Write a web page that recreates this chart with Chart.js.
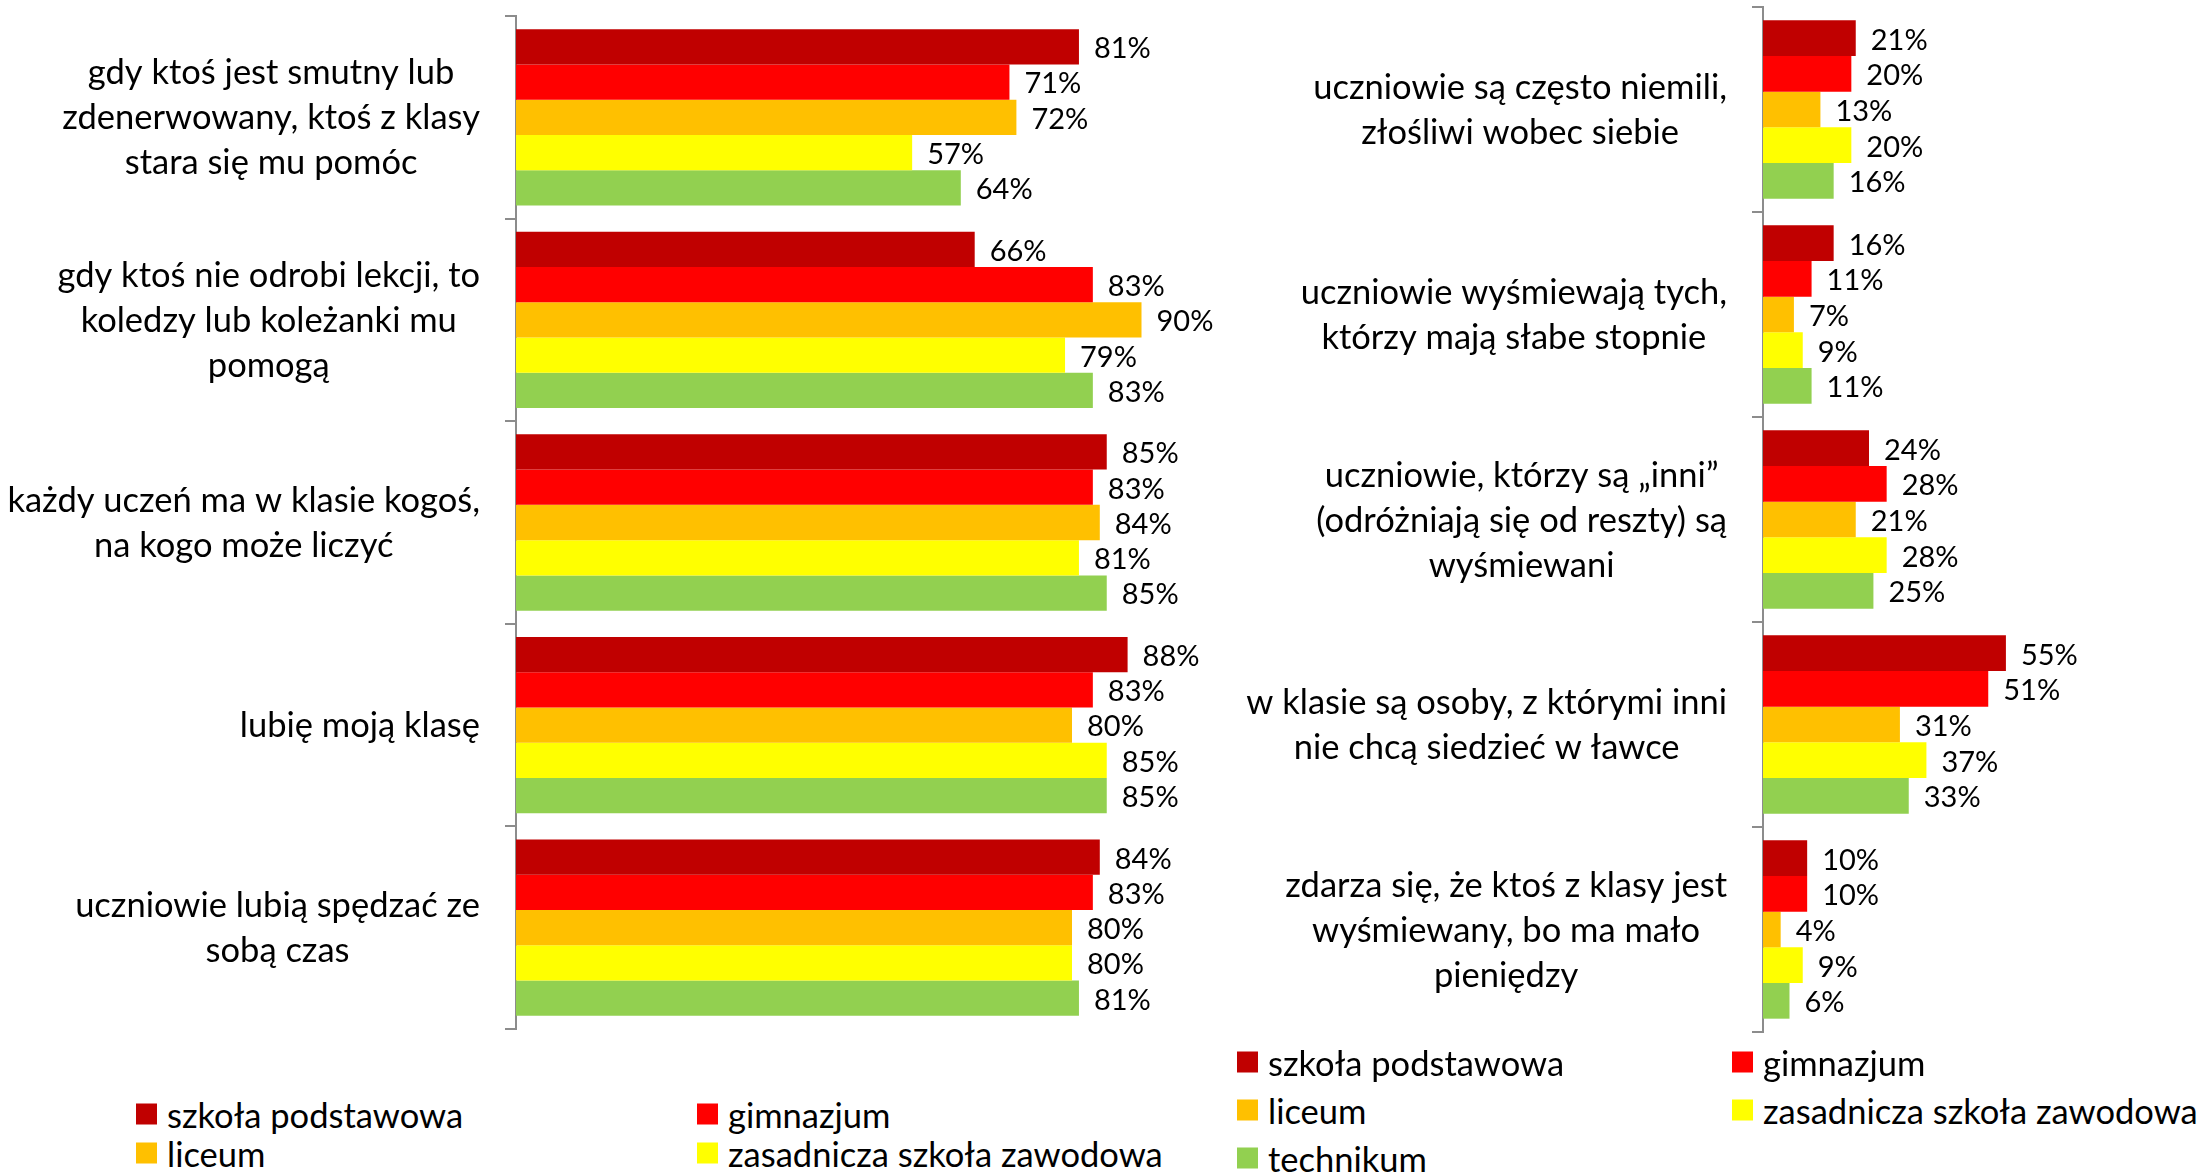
<!DOCTYPE html>
<html>
<head>
<meta charset="utf-8">
<script src="https://cdn.jsdelivr.net/npm/chart.js@4/dist/chart.umd.min.js"></script>
<style>
  body { margin: 0; width: 2201px; height: 1176px; overflow: hidden; background: #fff; font-family: Lato, sans-serif; position: relative; }
  canvas { position: absolute; top: 0; }
  #leftChart { left: 0; }
  #rightChart { left: 1240px; }
  .item { position: absolute; display: flex; align-items: center; white-space: nowrap; font-size: 34.5px; color: #000; transform: translateY(-50%); }
  .sw { width: 21px; height: 21px; margin-right: 10px; flex: none; }
</style>
</head>
<body>
<canvas id="leftChart" width="1240" height="1050"></canvas>
<canvas id="rightChart" width="961" height="1050"></canvas>
<div id="legends"></div>
<script>
// series
const seriesNames = ['szkoła podstawowa', 'gimnazjum', 'liceum', 'zasadnicza szkoła zawodowa', 'technikum'];
const seriesColors = ['#C00000', '#FF0000', '#FFC000', '#FFFF00', '#92D050'];

// left chart
const leftLabels = [
  ['gdy ktoś jest smutny lub', 'zdenerwowany, ktoś z klasy', 'stara się mu pomóc'],
  ['gdy ktoś nie odrobi lekcji, to', 'koledzy lub koleżanki mu', 'pomogą'],
  ['każdy uczeń ma w klasie kogoś,', 'na kogo może liczyć'],
  ['lubię moją klasę'],
  ['uczniowie lubią spędzać ze', 'sobą czas']
];
const leftPodstawowa = [81, 66, 85, 88, 84];
const leftGimnazjum = [71, 83, 83, 83, 83];
const leftLiceum = [72, 90, 84, 80, 80];
const leftZawodowa = [57, 79, 81, 85, 80];
const leftTechnikum = [64, 83, 85, 85, 81];

// right chart
const rightLabels = [
  ['uczniowie są często niemili,', 'złośliwi wobec siebie'],
  ['uczniowie wyśmiewają tych,', 'którzy mają słabe stopnie'],
  ['uczniowie, którzy są „inni”', '(odróżniają się od reszty) są', 'wyśmiewani'],
  ['w klasie są osoby, z którymi inni', 'nie chcą siedzieć w ławce'],
  ['zdarza się, że ktoś z klasy jest', 'wyśmiewany, bo ma mało', 'pieniędzy']
];
const rightPodstawowa = [21, 16, 24, 55, 10];
const rightGimnazjum = [20, 11, 28, 51, 10];
const rightLiceum = [13, 7, 21, 31, 4];
const rightZawodowa = [20, 9, 28, 37, 9];
const rightTechnikum = [16, 11, 25, 33, 6];

// value labels right of each bar
const valueLabels = {
  id: 'valueLabels',
  afterDatasetsDraw(chart) {
    const ctx = chart.ctx;
    ctx.save();
    ctx.font = '29px Lato';
    ctx.fillStyle = '#000';
    ctx.textAlign = 'left';
    ctx.textBaseline = 'middle';
    chart.data.datasets.forEach((ds, i) => {
      chart.getDatasetMeta(i).data.forEach((bar, j) => {
        ctx.fillText(ds.data[j] + '%', bar.x + 15, bar.y + 2);
      });
    });
    ctx.restore();
  }
};

// category labels: block right-aligned to the axis, lines centred inside the block
const catLabels = {
  id: 'catLabels',
  afterDraw(chart, args, opts) {
    const ctx = chart.ctx;
    const y = chart.scales.y;
    ctx.save();
    ctx.font = '34.5px Lato';
    ctx.fillStyle = '#000';
    ctx.textAlign = 'center';
    ctx.textBaseline = 'middle';
    opts.lines.forEach((lines, i) => {
      const w = Math.max(...lines.map(l => ctx.measureText(l).width));
      const cx = chart.chartArea.left - 36 - w / 2;
      const cy = y.getPixelForValue(i);
      lines.forEach((l, k) => {
        ctx.fillText(l, cx, cy + 1 + (k - (lines.length - 1) / 2) * 45);
      });
    });
    ctx.restore();
  }
};

function makeChart(id, labels, values, max, axisX, padding) {
  return new Chart(document.getElementById(id), {
    type: 'bar',
    data: {
      labels: labels.map(l => l.join(' ')),
      datasets: seriesNames.map((name, i) => ({
        label: name,
        data: values[i],
        backgroundColor: seriesColors[i],
        borderWidth: 0
      }))
    },
    options: {
      indexAxis: 'y',
      responsive: false,
      animation: false,
      layout: { padding: padding },
      categoryPercentage: 0.87,
      barPercentage: 1,
      plugins: {
        legend: { display: false },
        tooltip: { enabled: false },
        catLabels: { lines: labels }
      },
      scales: {
        x: { display: false, min: 0, max: max },
        y: {
          ticks: { display: false },
          grid: { offset: true, drawOnChartArea: false, tickLength: 11, color: '#8c8c8c', lineWidth: 2 },
          border: { color: '#8c8c8c', width: 2 },
          afterFit: s => { s.width = axisX; }
        }
      }
    },
    plugins: [valueLabels, catLabels]
  });
}

makeChart('leftChart', leftLabels,
  [leftPodstawowa, leftGimnazjum, leftLiceum, leftZawodowa, leftTechnikum],
  100, 516, { top: 16, bottom: 21, left: 0, right: 29 });

makeChart('rightChart', rightLabels,
  [rightPodstawowa, rightGimnazjum, rightLiceum, rightZawodowa, rightTechnikum],
  60, 523, { top: 7, bottom: 18, left: 0, right: 173 });

// legends (left one is cut off by the bottom of the picture, like the original)
const legends = document.getElementById('legends');
function addLegend(cols, rows) {
  seriesNames.forEach((name, i) => {
    const d = document.createElement('div');
    d.className = 'item';
    d.style.left = cols[i % 2] + 'px';
    d.style.top = rows[Math.floor(i / 2)] + 'px';
    d.innerHTML = '<span class="sw" style="background:' + seriesColors[i] + '"></span>';
    d.appendChild(document.createTextNode(name));
    legends.appendChild(d);
  });
}
addLegend([136, 697], [1114, 1153, 1193]);
addLegend([1237, 1732], [1062, 1110, 1158]);
</script>
</body>
</html>
